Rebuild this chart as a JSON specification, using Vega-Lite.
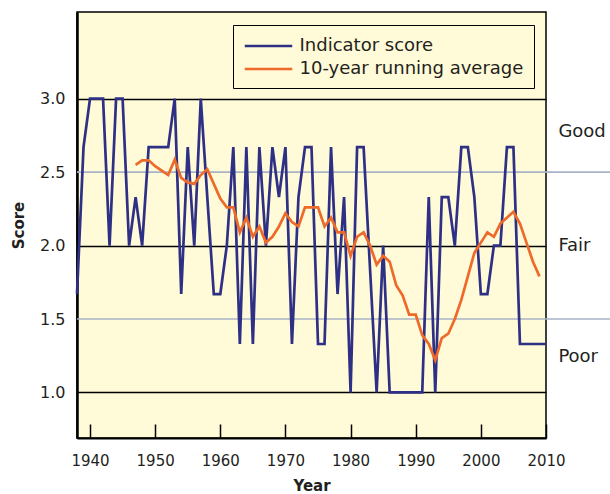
{
  "$schema": "https://vega.github.io/schema/vega-lite/v6.json",
  "width": 469,
  "height": 426,
  "autosize": {"type": "none"},
  "padding": {"left": 77, "top": 12, "right": 64, "bottom": 56},
  "background": "#ffffff",
  "config": {
    "view": {"fill": "#fffad7", "stroke": "#000000", "strokeWidth": 1.5},
    "font": "DejaVu Sans",
    "axis": {"labelFont": "DejaVu Sans", "titleFont": "DejaVu Sans", "labelColor": "#231f20", "titleColor": "#231f20"},
    "legend": {"labelFont": "DejaVu Sans"}
  },
  "datasets": {
    "series": [
      {"year": 1938, "score": 1.67, "series": "Indicator score"},
      {"year": 1939, "score": 2.67, "series": "Indicator score"},
      {"year": 1940, "score": 3.0, "series": "Indicator score"},
      {"year": 1941, "score": 3.0, "series": "Indicator score"},
      {"year": 1942, "score": 3.0, "series": "Indicator score"},
      {"year": 1943, "score": 2.0, "series": "Indicator score"},
      {"year": 1944, "score": 3.0, "series": "Indicator score"},
      {"year": 1945, "score": 3.0, "series": "Indicator score"},
      {"year": 1946, "score": 2.0, "series": "Indicator score"},
      {"year": 1947, "score": 2.33, "series": "Indicator score"},
      {"year": 1948, "score": 2.0, "series": "Indicator score"},
      {"year": 1949, "score": 2.67, "series": "Indicator score"},
      {"year": 1950, "score": 2.67, "series": "Indicator score"},
      {"year": 1951, "score": 2.67, "series": "Indicator score"},
      {"year": 1952, "score": 2.67, "series": "Indicator score"},
      {"year": 1953, "score": 3.0, "series": "Indicator score"},
      {"year": 1954, "score": 1.67, "series": "Indicator score"},
      {"year": 1955, "score": 2.67, "series": "Indicator score"},
      {"year": 1956, "score": 2.0, "series": "Indicator score"},
      {"year": 1957, "score": 3.0, "series": "Indicator score"},
      {"year": 1958, "score": 2.33, "series": "Indicator score"},
      {"year": 1959, "score": 1.67, "series": "Indicator score"},
      {"year": 1960, "score": 1.67, "series": "Indicator score"},
      {"year": 1961, "score": 2.0, "series": "Indicator score"},
      {"year": 1962, "score": 2.67, "series": "Indicator score"},
      {"year": 1963, "score": 1.33, "series": "Indicator score"},
      {"year": 1964, "score": 2.67, "series": "Indicator score"},
      {"year": 1965, "score": 1.33, "series": "Indicator score"},
      {"year": 1966, "score": 2.67, "series": "Indicator score"},
      {"year": 1967, "score": 2.0, "series": "Indicator score"},
      {"year": 1968, "score": 2.67, "series": "Indicator score"},
      {"year": 1969, "score": 2.33, "series": "Indicator score"},
      {"year": 1970, "score": 2.67, "series": "Indicator score"},
      {"year": 1971, "score": 1.33, "series": "Indicator score"},
      {"year": 1972, "score": 2.33, "series": "Indicator score"},
      {"year": 1973, "score": 2.67, "series": "Indicator score"},
      {"year": 1974, "score": 2.67, "series": "Indicator score"},
      {"year": 1975, "score": 1.33, "series": "Indicator score"},
      {"year": 1976, "score": 1.33, "series": "Indicator score"},
      {"year": 1977, "score": 2.67, "series": "Indicator score"},
      {"year": 1978, "score": 1.67, "series": "Indicator score"},
      {"year": 1979, "score": 2.33, "series": "Indicator score"},
      {"year": 1980, "score": 1.0, "series": "Indicator score"},
      {"year": 1981, "score": 2.67, "series": "Indicator score"},
      {"year": 1982, "score": 2.67, "series": "Indicator score"},
      {"year": 1983, "score": 1.83, "series": "Indicator score"},
      {"year": 1984, "score": 1.0, "series": "Indicator score"},
      {"year": 1985, "score": 2.0, "series": "Indicator score"},
      {"year": 1986, "score": 1.0, "series": "Indicator score"},
      {"year": 1987, "score": 1.0, "series": "Indicator score"},
      {"year": 1988, "score": 1.0, "series": "Indicator score"},
      {"year": 1989, "score": 1.0, "series": "Indicator score"},
      {"year": 1990, "score": 1.0, "series": "Indicator score"},
      {"year": 1991, "score": 1.0, "series": "Indicator score"},
      {"year": 1992, "score": 2.33, "series": "Indicator score"},
      {"year": 1993, "score": 1.0, "series": "Indicator score"},
      {"year": 1994, "score": 2.33, "series": "Indicator score"},
      {"year": 1995, "score": 2.33, "series": "Indicator score"},
      {"year": 1996, "score": 2.0, "series": "Indicator score"},
      {"year": 1997, "score": 2.67, "series": "Indicator score"},
      {"year": 1998, "score": 2.67, "series": "Indicator score"},
      {"year": 1999, "score": 2.33, "series": "Indicator score"},
      {"year": 2000, "score": 1.67, "series": "Indicator score"},
      {"year": 2001, "score": 1.67, "series": "Indicator score"},
      {"year": 2002, "score": 2.0, "series": "Indicator score"},
      {"year": 2003, "score": 2.0, "series": "Indicator score"},
      {"year": 2004, "score": 2.67, "series": "Indicator score"},
      {"year": 2005, "score": 2.67, "series": "Indicator score"},
      {"year": 2006, "score": 1.33, "series": "Indicator score"},
      {"year": 2007, "score": 1.33, "series": "Indicator score"},
      {"year": 2008, "score": 1.33, "series": "Indicator score"},
      {"year": 2009, "score": 1.33, "series": "Indicator score"},
      {"year": 2010, "score": 1.33, "series": "Indicator score"},
      {"year": 1947, "score": 2.55, "series": "10-year running average"},
      {"year": 1948, "score": 2.58, "series": "10-year running average"},
      {"year": 1949, "score": 2.58, "series": "10-year running average"},
      {"year": 1950, "score": 2.54, "series": "10-year running average"},
      {"year": 1951, "score": 2.51, "series": "10-year running average"},
      {"year": 1952, "score": 2.48, "series": "10-year running average"},
      {"year": 1953, "score": 2.585, "series": "10-year running average"},
      {"year": 1954, "score": 2.46, "series": "10-year running average"},
      {"year": 1955, "score": 2.43, "series": "10-year running average"},
      {"year": 1956, "score": 2.42, "series": "10-year running average"},
      {"year": 1957, "score": 2.48, "series": "10-year running average"},
      {"year": 1958, "score": 2.52, "series": "10-year running average"},
      {"year": 1959, "score": 2.42, "series": "10-year running average"},
      {"year": 1960, "score": 2.32, "series": "10-year running average"},
      {"year": 1961, "score": 2.26, "series": "10-year running average"},
      {"year": 1962, "score": 2.26, "series": "10-year running average"},
      {"year": 1963, "score": 2.09, "series": "10-year running average"},
      {"year": 1964, "score": 2.19, "series": "10-year running average"},
      {"year": 1965, "score": 2.06, "series": "10-year running average"},
      {"year": 1966, "score": 2.13, "series": "10-year running average"},
      {"year": 1967, "score": 2.02, "series": "10-year running average"},
      {"year": 1968, "score": 2.06, "series": "10-year running average"},
      {"year": 1969, "score": 2.13, "series": "10-year running average"},
      {"year": 1970, "score": 2.22, "series": "10-year running average"},
      {"year": 1971, "score": 2.16, "series": "10-year running average"},
      {"year": 1972, "score": 2.13, "series": "10-year running average"},
      {"year": 1973, "score": 2.26, "series": "10-year running average"},
      {"year": 1974, "score": 2.26, "series": "10-year running average"},
      {"year": 1975, "score": 2.26, "series": "10-year running average"},
      {"year": 1976, "score": 2.13, "series": "10-year running average"},
      {"year": 1977, "score": 2.19, "series": "10-year running average"},
      {"year": 1978, "score": 2.09, "series": "10-year running average"},
      {"year": 1979, "score": 2.09, "series": "10-year running average"},
      {"year": 1980, "score": 1.93, "series": "10-year running average"},
      {"year": 1981, "score": 2.06, "series": "10-year running average"},
      {"year": 1982, "score": 2.09, "series": "10-year running average"},
      {"year": 1983, "score": 2.0, "series": "10-year running average"},
      {"year": 1984, "score": 1.87, "series": "10-year running average"},
      {"year": 1985, "score": 1.93, "series": "10-year running average"},
      {"year": 1986, "score": 1.89, "series": "10-year running average"},
      {"year": 1987, "score": 1.73, "series": "10-year running average"},
      {"year": 1988, "score": 1.66, "series": "10-year running average"},
      {"year": 1989, "score": 1.53, "series": "10-year running average"},
      {"year": 1990, "score": 1.53, "series": "10-year running average"},
      {"year": 1991, "score": 1.39, "series": "10-year running average"},
      {"year": 1992, "score": 1.33, "series": "10-year running average"},
      {"year": 1993, "score": 1.22, "series": "10-year running average"},
      {"year": 1994, "score": 1.37, "series": "10-year running average"},
      {"year": 1995, "score": 1.4, "series": "10-year running average"},
      {"year": 1996, "score": 1.5, "series": "10-year running average"},
      {"year": 1997, "score": 1.63, "series": "10-year running average"},
      {"year": 1998, "score": 1.79, "series": "10-year running average"},
      {"year": 1999, "score": 1.95, "series": "10-year running average"},
      {"year": 2000, "score": 2.02, "series": "10-year running average"},
      {"year": 2001, "score": 2.09, "series": "10-year running average"},
      {"year": 2002, "score": 2.06, "series": "10-year running average"},
      {"year": 2003, "score": 2.15, "series": "10-year running average"},
      {"year": 2004, "score": 2.19, "series": "10-year running average"},
      {"year": 2005, "score": 2.23, "series": "10-year running average"},
      {"year": 2006, "score": 2.15, "series": "10-year running average"},
      {"year": 2007, "score": 2.02, "series": "10-year running average"},
      {"year": 2008, "score": 1.89, "series": "10-year running average"},
      {"year": 2009, "score": 1.79, "series": "10-year running average"}
    ],
    "bands": [
      {"score": 1.5},
      {"score": 2.5}
    ],
    "ratings": [
      {"label": "Good", "score": 2.77},
      {"label": "Fair", "score": 2.0},
      {"label": "Poor", "score": 1.24}
    ]
  },
  "encoding": {
    "y": {
      "field": "score",
      "type": "quantitative",
      "scale": {"domain": [0.69, 3.59], "nice": false, "zero": false},
      "axis": {
        "values": [1, 1.5, 2, 2.5, 3],
        "format": ".1f",
        "title": "Score",
        "titleFontWeight": "bold",
        "titleFontSize": 15,
        "titleX": -59,
        "titleY": 213,
        "titleAngle": -90,
        "titleAlign": "center",
        "titleBaseline": "middle",
        "labelFontSize": 16,
        "labelPadding": 12,
        "ticks": false,
        "domainColor": "#000000",
        "domainWidth": 2.5,
        "grid": true,
        "gridColor": {"condition": {"test": "datum.value % 1 === 0", "value": "#000000"}, "value": "rgba(0,0,0,0)"},
        "gridWidth": 1.3
      }
    }
  },
  "layer": [
    {
      "data": {"name": "bands"},
      "mark": {"type": "rule", "color": "#a9b3c7", "strokeWidth": 1.6},
      "encoding": {
        "x": {"datum": 1938, "type": "quantitative", "scale": {"domain": [1938, 2010], "nice": false, "zero": false}},
        "x2": {"datum": 2020}
      }
    },
    {
      "data": {"name": "series"},
      "mark": {"type": "line", "strokeWidth": 2.7},
      "encoding": {
        "x": {
          "field": "year",
          "type": "quantitative",
          "scale": {"domain": [1938, 2010], "nice": false, "zero": false},
          "axis": {
            "values": [1940, 1950, 1960, 1970, 1980, 1990, 2000, 2010],
            "format": "d",
            "title": "Year",
            "titleFontWeight": "bold",
            "titleFontSize": 15,
            "titleY": 52,
            "titleBaseline": "alphabetic",
            "labelFontSize": 15,
            "labelPadding": 29,
            "tickSize": -14,
            "tickColor": "#000000",
            "tickWidth": 1.5,
            "domainColor": "#000000",
            "domainWidth": 2,
            "grid": false,
            "labelFlush": false,
            "labelOverlap": false
          }
        },
        "color": {
          "field": "series",
          "type": "nominal",
          "sort": ["Indicator score", "10-year running average"],
          "scale": {"domain": ["Indicator score", "10-year running average"], "range": ["#2e3086", "#ee6a2a"]},
          "legend": {
            "orient": "none",
            "legendX": 156,
            "legendY": 13,
            "title": null,
            "symbolType": "M-2.5,0H2.5",
            "symbolSize": 361,
            "symbolStrokeWidth": 2.5,
            "symbolOffset": 14.5,
            "labelOffset": 20,
            "labelFontSize": 18,
            "labelLimit": 400,
            "labelColor": "#231f20",
            "rowPadding": 3,
            "padding": 10,
            "strokeColor": "#000000",
            "fillColor": "#fffad7"
          }
        }
      }
    },
    {
      "data": {"name": "ratings"},
      "mark": {"type": "text", "align": "left", "baseline": "middle", "fontSize": 18, "color": "#231f20", "font": "DejaVu Sans"},
      "encoding": {
        "x": {"datum": 2011.9, "type": "quantitative", "scale": {"domain": [1938, 2010], "nice": false, "zero": false}},
        "text": {"field": "label"}
      }
    }
  ]
}
